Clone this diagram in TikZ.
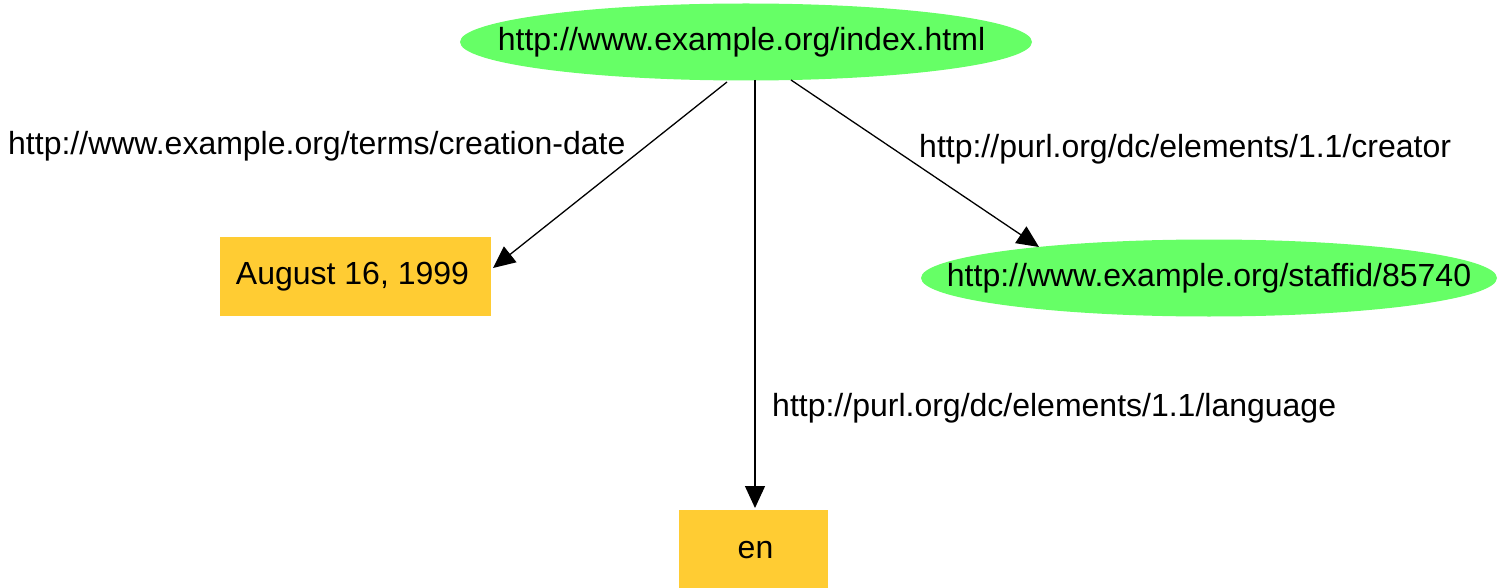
\documentclass[tikz,border=0pt]{standalone}
\usepackage{fontspec}
\setmainfont{Liberation Sans}
\usetikzlibrary{shapes.geometric,arrows.meta}
\definecolor{resgreen}{HTML}{66FF66}
\definecolor{litorange}{HTML}{FFCC33}
\begin{document}
\begin{tikzpicture}[x=1pt,y=-1pt,
  every node/.style={font=\fontsize{32}{37}\selectfont, inner sep=0pt},
  res/.style={ellipse, fill=resgreen, minimum width=#1, minimum height=77},
  lit/.style={rectangle, fill=litorange, minimum height=79},
  edge/.style={draw=black, line width=1.3pt, -{Triangle[length=22pt,width=20pt]}},
  elabel/.style={anchor=west}]
\useasboundingbox (0,0) rectangle (1504,588);
\node[res=572] (idx) at (746,42) {\makebox[0pt]{\hspace*{-9pt}http://www.example.org/index.html}};
\node[lit, minimum width=271] (date) at (355.5,276.5) {\hspace*{-3pt}August 16, 1999\hspace*{3pt}};
\node[res=576] (staff) at (1209,278) {\makebox[0pt]{http://www.example.org/staffid/85740}};
\node[lit, minimum width=149, minimum height=80] (en) at (753.5,550) {\hspace*{4pt}en};
\coordinate (s1) at (727,82);
\coordinate (t1) at (493,268);
\coordinate (s2) at (755,80);
\coordinate (t2) at (755,508);
\coordinate (s3) at (791,80);
\coordinate (t3) at (1039,247);
\draw[edge] (s1) -- (t1);
\draw[edge] (s2) -- (t2);
\draw[edge] (s3) -- (t3);
\node[elabel] (l1) at (8,146) {http://www.example.org/terms/creation-date};
\node[elabel] (l2) at (919,149) {http://purl.org/dc/elements/1.1/creator};
\node[elabel] (l3) at (772,408) {http://purl.org/dc/elements/1.1/language};
\end{tikzpicture}
\end{document}
